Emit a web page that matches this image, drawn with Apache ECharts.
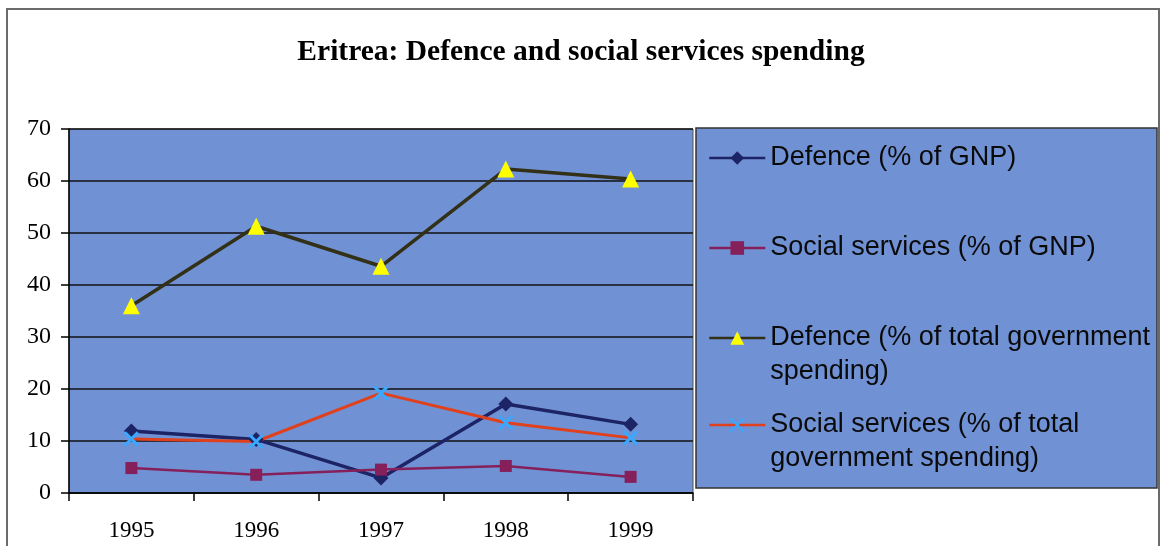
<!DOCTYPE html>
<html>
<head>
<meta charset="utf-8">
<script src="https://cdn.jsdelivr.net/npm/echarts@6/dist/echarts.min.js"></script>
<style>
html,body{margin:0;padding:0;background:#fff;}
#chart{width:1162px;height:546px;}
</style>
</head>
<body>
<div id="chart"></div>
<script>
var years = ['1995', '1996', '1997', '1998', '1999'];
var defenceGNP = [11.9, 10.3, 2.9, 17.1, 13.2];
var socialGNP = [4.8, 3.5, 4.5, 5.2, 3.1];
var defenceGov = [36.0, 51.3, 43.6, 62.3, 60.4];
var socialGov = [10.4, 9.9, 19.2, 13.5, 10.6];
var seriesNames = [
  'Defence (% of GNP)',
  'Social services (% of GNP)',
  'Defence (% of total government spending)',
  'Social services (% of total government spending)'
];
var legendLabels = [
  'Defence (% of GNP)',
  'Social services (% of GNP)',
  'Defence (% of total government\nspending)',
  'Social services (% of total\ngovernment spending)'
];
var titleText = 'Eritrea: Defence and social services spending';

var blue = '#7091d4';
var legendCenters = [158, 248, 338, 425];
var legendLines = [1, 1, 2, 2];
var LH = 34;

function makeLegend(i) {
  var n = legendLines[i];
  var extra = n - 1;
  var totalLines = n + extra;
  var boxH = LH * totalLines;
  var prefix = extra > 0 ? '\n' : '';
  return {
    show: true,
    orient: 'vertical',
    left: 708,
    top: legendCenters[i] - boxH / 2,
    padding: 0,
    itemWidth: 56,
    itemHeight: 17,
    selectedMode: false,
    data: [seriesNames[i]],
    formatter: function () { return prefix + legendLabels[i]; },
    lineStyle: {width: 2.5},
    textStyle: {
      fontFamily: 'Liberation Sans',
      fontSize: 27,
      color: '#0a0a0a',
      lineHeight: LH
    }
  };
}

var chart = echarts.init(document.getElementById('chart'), null, {renderer: 'canvas'});
chart.setOption({
  backgroundColor: '#ffffff',
  animation: false,
  title: {
    text: titleText,
    left: 'center',
    top: 32,
    textStyle: {
      fontFamily: 'Liberation Serif',
      fontWeight: 'bold',
      fontSize: 29.5,
      color: '#000'
    }
  },
  graphic: [
    {
      type: 'rect',
      shape: {x: 7, y: 9, width: 1152, height: 560},
      style: {fill: 'none', stroke: '#6a6a6a', lineWidth: 2},
      z: -10
    },
    {
      type: 'rect',
      shape: {x: 696, y: 128, width: 461, height: 360},
      style: {fill: blue, stroke: '#333', lineWidth: 1.5},
      z: -5
    }
  ],
  legend: [makeLegend(0), makeLegend(1), makeLegend(2), makeLegend(3)],
  grid: {
    left: 69,
    top: 129,
    width: 624,
    height: 364,
    show: true,
    backgroundColor: blue,
    borderColor: '#555',
    borderWidth: 1
  },
  xAxis: {
    type: 'category',
    data: years,
    boundaryGap: true,
    axisLine: {lineStyle: {color: '#000', width: 1.5}},
    axisTick: {show: true, length: 8, inside: false, alignWithLabel: false, lineStyle: {color: '#000', width: 1.5}},
    axisLabel: {fontFamily: 'Liberation Serif', fontSize: 23, color: '#000', margin: 26},
    splitLine: {show: false}
  },
  yAxis: {
    type: 'value',
    min: 0,
    max: 70,
    interval: 10,
    axisLine: {show: true, lineStyle: {color: '#000', width: 1.5}},
    axisTick: {show: true, length: 8, lineStyle: {color: '#000', width: 1.5}},
    axisLabel: {fontFamily: 'Liberation Serif', fontSize: 24, color: '#000', margin: 18},
    splitLine: {show: true, lineStyle: {color: '#111', width: 1.5}}
  },
  series: [
    {
      name: seriesNames[0],
      type: 'line',
      data: defenceGNP,
      symbol: 'diamond',
      symbolSize: 15,
      lineStyle: {color: '#1c2466', width: 3.5},
      itemStyle: {color: '#1c2466'}
    },
    {
      name: seriesNames[1],
      type: 'line',
      data: socialGNP,
      symbol: 'rect',
      symbolSize: 12,
      lineStyle: {color: '#86205a', width: 2.5},
      itemStyle: {color: '#86205a'}
    },
    {
      name: seriesNames[2],
      type: 'line',
      data: defenceGov,
      symbol: 'triangle',
      symbolSize: 17,
      lineStyle: {color: '#333018', width: 3.5},
      itemStyle: {color: '#ffff00'}
    },
    {
      name: seriesNames[3],
      type: 'line',
      data: socialGov,
      symbol: 'path://M0,0L10,10M10,0L0,10',
      symbolSize: 13,
      lineStyle: {color: '#e0401c', width: 3},
      itemStyle: {color: '#3aa8ff', borderColor: '#3aa8ff', borderWidth: 3}
    }
  ]
});
</script>
</body>
</html>
